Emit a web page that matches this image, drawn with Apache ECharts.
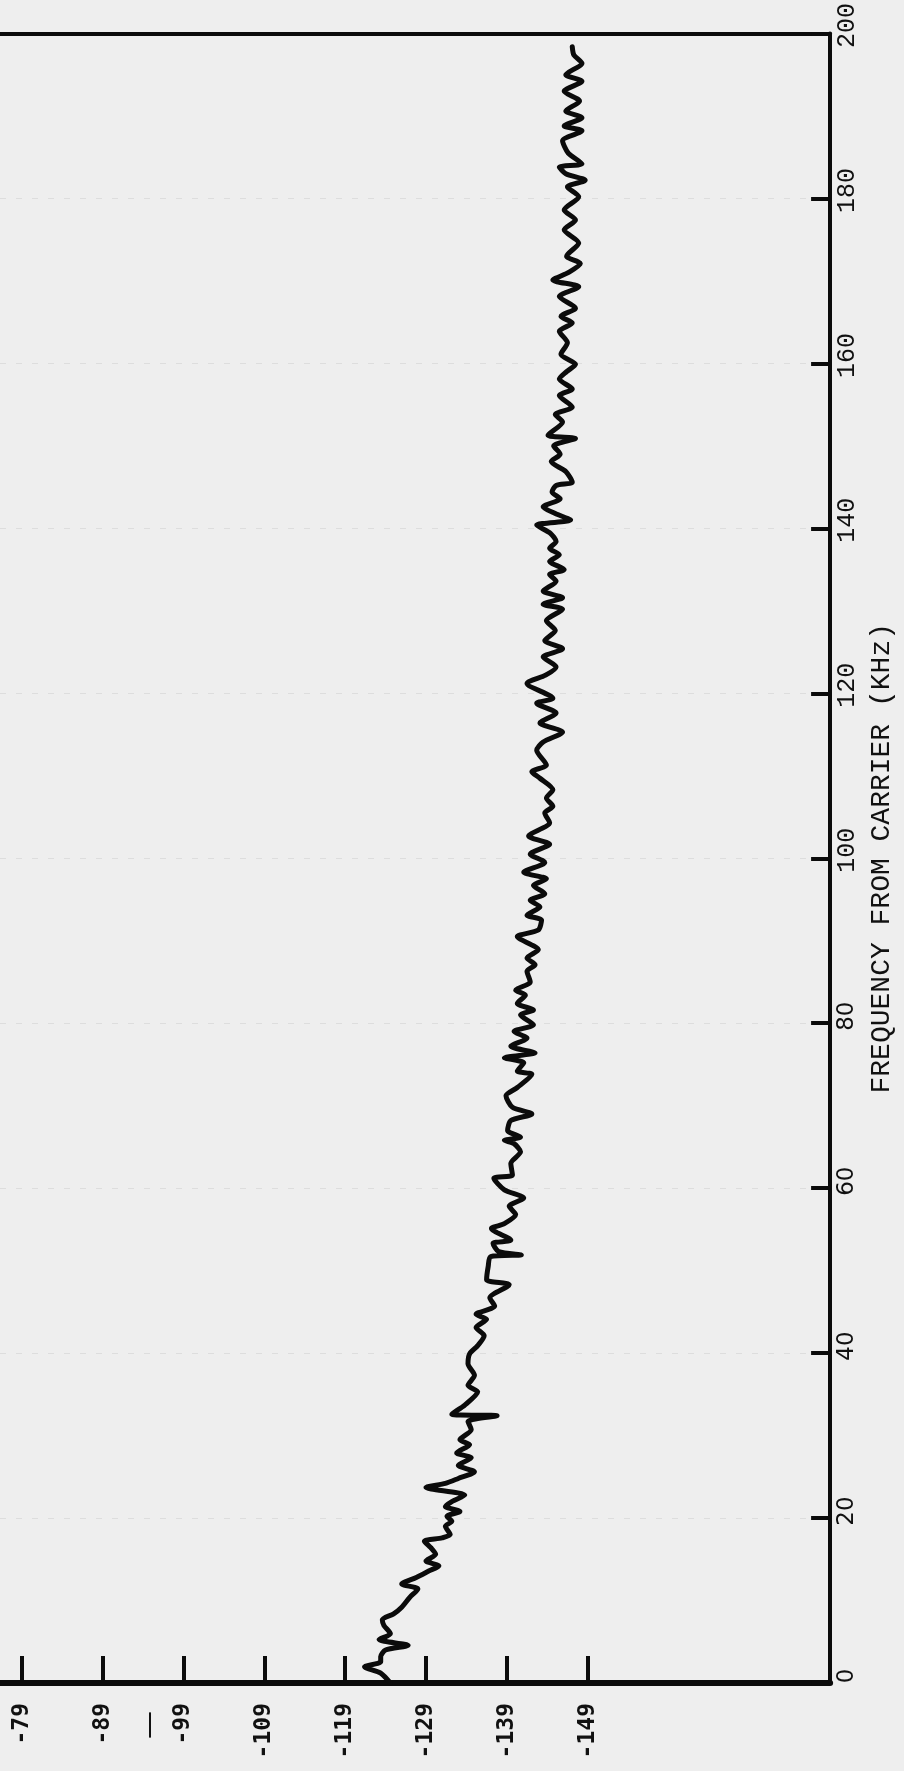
<!DOCTYPE html>
<html><head><meta charset="utf-8">
<script src="https://cdn.jsdelivr.net/npm/echarts@6/dist/echarts.min.js"></script>
<style>html,body{margin:0;padding:0;background:#eeeeee}#c{width:904px;height:1771px}</style>
</head><body><div id="c"></div>
<script>
const freqKHz = [0.0,1.2,1.96,2.57,3.2,4.0,4.57,5.26,5.98,6.98,7.66,8.39,9.19,10.39,11.4,12.0,12.8,13.6,14.2,14.8,15.6,16.4,17.2,17.6,18.0,19.0,19.6,20.2,20.8,21.4,22.0,22.8,23.7,24.2,24.8,25.6,26.4,27.3,27.9,28.9,29.5,30.7,31.7,32.4,32.6,33.7,35.3,36.1,37.3,38.7,39.9,40.9,42.1,43.1,44.1,44.7,45.7,46.7,48.3,48.9,50.5,51.7,51.9,52.3,53.3,53.7,55.1,55.7,56.8,57.8,58.8,59.8,61.2,61.6,63.0,64.4,65.4,65.8,66.2,67.0,68.2,69.0,69.8,71.2,72.2,73.8,74.2,75.2,75.8,76.4,77.2,78.2,79.0,79.8,81.0,81.6,82.4,83.4,84.0,85.0,86.3,87.1,87.9,88.9,90.5,91.3,92.5,93.1,94.1,94.9,95.7,96.7,97.5,98.3,99.5,100.5,101.7,102.7,104.3,105.5,106.3,107.3,108.3,109.7,110.5,111.3,113.1,114.1,115.3,116.4,117.6,118.8,119.4,121.2,122.2,123.2,124.4,125.4,126.4,127.6,128.8,130.2,130.8,131.6,132.4,133.6,134.4,135.0,136.0,136.8,137.6,138.4,139.4,140.4,141.0,141.8,142.6,143.6,144.4,145.2,145.6,146.9,148.1,149.0,150.0,150.9,151.3,152.9,153.8,154.7,156.1,156.9,158.1,159.0,159.9,161.1,162.5,163.9,164.9,165.7,166.7,168.1,169.3,170.1,171.0,172.1,173.0,174.6,176.2,177.4,178.6,180.2,181.4,182.2,183.0,183.8,184.2,185.5,187.0,188.2,188.8,189.8,190.6,191.8,193.0,194.2,195.0,196.4,197.4,198.4];
const levelDb = [-124.6,-123.4,-121.4,-123.4,-123.4,-124.0,-126.8,-123.2,-124.6,-123.8,-123.6,-125.0,-126.0,-127.0,-128.0,-126.0,-127.8,-129.4,-130.6,-129.0,-130.2,-129.6,-128.8,-131.0,-132.0,-131.4,-132.2,-131.6,-133.2,-131.4,-132.2,-133.8,-129.0,-131.4,-133.0,-135.0,-133.0,-134.6,-132.8,-134.4,-133.2,-134.6,-134.2,-137.8,-132.2,-133.8,-135.4,-134.2,-135.0,-134.2,-134.4,-135.4,-136.2,-135.2,-136.5,-135.2,-137.5,-136.9,-139.3,-136.5,-136.7,-137.0,-140.8,-138.0,-137.3,-139.5,-137.1,-138.7,-140.1,-139.3,-141.1,-138.7,-137.4,-139.7,-139.5,-140.7,-139.9,-138.7,-140.7,-139.1,-139.5,-142.1,-139.7,-138.9,-140.3,-142.1,-140.3,-141.1,-138.7,-142.5,-139.5,-141.5,-139.9,-142.3,-140.7,-142.3,-140.3,-141.3,-140.1,-141.9,-141.5,-142.5,-141.5,-142.9,-140.3,-142.9,-143.3,-141.5,-143.1,-141.9,-143.7,-142.3,-143.9,-141.1,-143.7,-141.9,-144.3,-141.7,-144.3,-143.7,-144.7,-143.9,-144.7,-143.1,-142.1,-143.9,-142.7,-143.5,-145.9,-143.1,-145.1,-142.7,-144.7,-141.5,-143.8,-145.1,-143.5,-145.9,-143.7,-145.0,-143.9,-145.9,-143.5,-145.9,-143.5,-145.1,-144.3,-146.1,-144.3,-145.5,-144.3,-145.1,-144.4,-142.7,-146.9,-145.0,-143.5,-145.6,-144.6,-145.1,-147.1,-146.3,-144.5,-145.6,-144.8,-147.5,-144.1,-145.9,-145.0,-147.1,-145.5,-147.1,-145.5,-146.4,-147.5,-145.7,-146.5,-145.5,-147.1,-145.7,-147.5,-145.5,-147.9,-144.7,-146.6,-148.1,-146.4,-147.9,-146.1,-147.5,-146.1,-147.9,-146.5,-148.7,-146.3,-145.5,-148.3,-146.6,-145.9,-148.3,-146.1,-148.3,-146.3,-148.0,-146.1,-148.3,-146.3,-148.3,-147.3,-147.1];
const levelTicks = [-79,-89,-99,-109,-119,-129,-139,-149];
const freqTicks = [0,20,40,60,80,100,120,140,160,180,200];
const penMark = -95;
const axisName = 'FREQUENCY FROM CARRIER (KHz)';

const ink = '#0b0b0b';
const chart = echarts.init(document.getElementById('c'), null, {renderer:'canvas'});
chart.setOption({
  backgroundColor:'#eeeeee',
  animation:false,
  grid:{left:0, right:53, top:22, bottom:88, containLabel:false},
  xAxis:[{
    type:'value', position:'bottom', min:-179, max:-76.3, inverse:true,
    axisLine:{show:true, onZero:false, lineStyle:{color:ink, width:6}},
    axisTick:{show:true, inside:true, length:27, customValues:levelTicks, lineStyle:{color:ink, width:4}},
    axisLabel:{show:true, rotate:90, margin:20, customValues:levelTicks.concat([penMark]),
      formatter:function(v){ return v === penMark ? '{d|—}' : '{n|' + v + '}'; },
      rich:{
        n:{fontFamily:'DejaVu Sans Mono', fontWeight:'bold', fontSize:23, color:'#111'},
        d:{fontFamily:'DejaVu Sans', fontSize:28, color:'#111', padding:[0,8,0,0]}
      }},
    splitLine:{show:false}
  },{
    type:'value', position:'top', min:-179, max:-76.3, inverse:true,
    axisLine:{show:true, onZero:false, lineStyle:{color:ink, width:4}},
    axisTick:{show:false}, axisLabel:{show:false}, splitLine:{show:false}
  }],
  yAxis:{
    type:'value', position:'right', min:freqTicks[0], max:freqTicks[freqTicks.length-1], interval:20,
    name:axisName, nameLocation:'middle', nameRotate:90, nameGap:22,
    nameTextStyle:{fontFamily:'Liberation Mono', fontSize:28, color:'#111'},
    axisLine:{show:true, onZero:false, lineStyle:{color:ink, width:4}},
    axisTick:{show:true, inside:true, length:19, lineStyle:{color:ink, width:4}},
    axisLabel:{rotate:90, margin:5,
      formatter:function(v){ return v < 100 ? '{s|' + v + '}' : '{m|' + v + '}'; },
      rich:{
        s:{fontFamily:'DejaVu Sans', fontSize:23, color:'#111', padding:[0,0,0,14]},
        m:{fontFamily:'Liberation Mono', fontSize:25, color:'#111', padding:[0,0,0,16]}
      }},
    splitLine:{show:true, lineStyle:{color:'rgba(0,0,0,0.07)', type:[6,10], width:1}}
  },
  series:[{
    type:'line', xAxisIndex:0, yAxisIndex:0,
    data:freqKHz.map(function(f,i){ return [levelDb[i], f]; }),
    showSymbol:false, smooth:0.25,
    lineStyle:{color:ink, width:5, cap:'round', join:'round'}
  }]
});
</script>
</body></html>
